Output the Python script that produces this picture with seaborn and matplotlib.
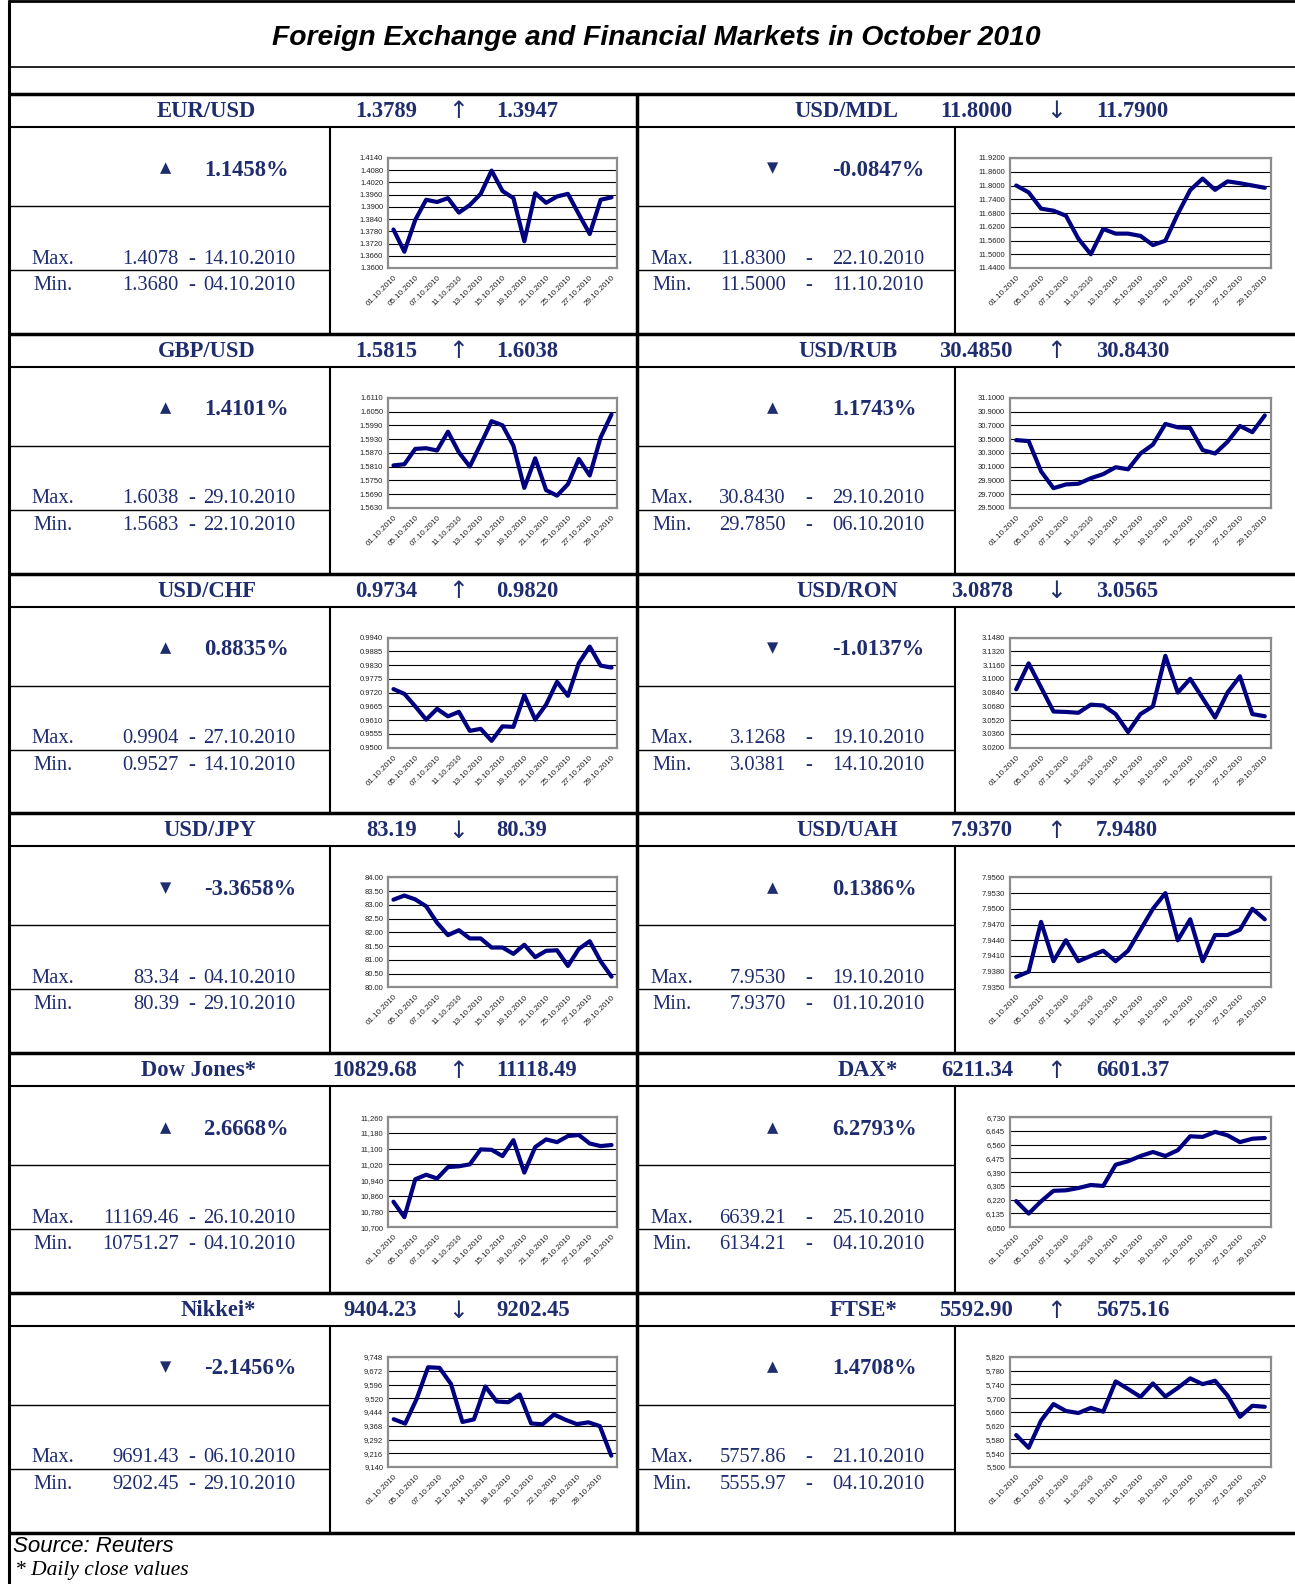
import numpy as np
import pandas as pd
import matplotlib.pyplot as plt
import seaborn as sns
from matplotlib.lines import Line2D

# Trading days in October 2010
fx_dates = ['01.10.2010', '04.10.2010', '05.10.2010', '06.10.2010', '07.10.2010',
            '08.10.2010', '11.10.2010', '12.10.2010', '13.10.2010', '14.10.2010',
            '15.10.2010', '18.10.2010', '19.10.2010', '20.10.2010', '21.10.2010',
            '22.10.2010', '25.10.2010', '26.10.2010', '27.10.2010', '28.10.2010',
            '29.10.2010']
nikkei_dates = [d for d in fx_dates if d != '11.10.2010']

# Daily close values
eur_usd = [1.3789, 1.3680, 1.3836, 1.3935, 1.3924, 1.3943, 1.3872, 1.3909, 1.3964, 1.4078, 1.3978,
           1.3943, 1.3731, 1.3967, 1.3920, 1.3951, 1.3964, 1.3864, 1.3767, 1.3935, 1.3947]
usd_mdl = [11.8000, 11.7700, 11.6990, 11.6900, 11.6680, 11.5680, 11.5000, 11.6100, 11.5900, 11.5900, 11.5800,
           11.5400, 11.5590, 11.6760, 11.7800, 11.8300, 11.7810, 11.8180, 11.8100, 11.8000, 11.7900]
gbp_usd = [1.5815, 1.5820, 1.5887, 1.5890, 1.5880, 1.5962, 1.5872, 1.5810, 1.5908, 1.6008, 1.5990,
           1.5901, 1.5717, 1.5846, 1.5707, 1.5683, 1.5733, 1.5843, 1.5771, 1.5937, 1.6038]
usd_rub = [30.4850, 30.4700, 30.0300, 29.7850, 29.8400, 29.8500, 29.9300, 29.9900, 30.0900, 30.0600, 30.2900,
           30.4200, 30.7200, 30.6700, 30.6600, 30.3400, 30.2900, 30.4600, 30.6900, 30.6000, 30.8430]
usd_chf = [0.9734, 0.9715, 0.9665, 0.9612, 0.9655, 0.9625, 0.9643, 0.9567, 0.9575, 0.9527, 0.9585,
           0.9583, 0.9710, 0.9612, 0.9672, 0.9763, 0.9707, 0.9838, 0.9904, 0.9828, 0.9820]
usd_ron = [3.0878, 3.1180, 3.0900, 3.0620, 3.0615, 3.0605, 3.0700, 3.0690, 3.0590, 3.0381, 3.0590,
           3.0680, 3.1268, 3.0840, 3.1000, 3.0775, 3.0550, 3.0840, 3.1030, 3.0590, 3.0565]
usd_jpy = [83.19, 83.34, 83.20, 82.95, 82.35, 81.90, 82.08, 81.78, 81.78, 81.45, 81.45,
           81.22, 81.55, 81.10, 81.33, 81.35, 80.78, 81.40, 81.68, 80.95, 80.39]
usd_uah = [7.9370, 7.9380, 7.9475, 7.9400, 7.9440, 7.9400, 7.9410, 7.9420, 7.9400, 7.9420, 7.9460,
           7.9500, 7.9530, 7.9440, 7.9480, 7.9400, 7.9450, 7.9450, 7.9460, 7.9500, 7.9480]
dow = [10829.68, 10751.27, 10944, 10967, 10948, 11006, 11010, 11020, 11096, 11094, 11062,
       11143, 10978, 11108, 11147, 11133, 11164, 11169.46, 11126, 11113, 11118.49]
dax = [6211.34, 6134.21, 6210, 6275, 6278, 6292, 6311, 6305, 6436, 6458, 6490,
       6515, 6490, 6526, 6612, 6608, 6639.21, 6618, 6576, 6597, 6601.37]
nikkei = [9404.23, 9380, 9516, 9691.43, 9688, 9599, 9389, 9403, 9585, 9502,
          9498, 9541, 9381, 9376, 9430, 9401, 9377, 9387, 9366, 9202.45]
ftse = [5592.90, 5555.97, 5635, 5683, 5663, 5657, 5672, 5661, 5749, 5727, 5704,
        5743, 5705, 5730, 5757.86, 5741, 5751, 5708, 5646, 5678, 5675.16]

names = ['EUR/USD', 'USD/MDL', 'GBP/USD', 'USD/RUB', 'USD/CHF', 'USD/RON',
         'USD/JPY', 'USD/UAH', 'Dow Jones*', 'DAX*', 'Nikkei*', 'FTSE*']
series = [eur_usd, usd_mdl, gbp_usd, usd_rub, usd_chf, usd_ron,
          usd_jpy, usd_uah, dow, dax, nikkei, ftse]
dates = [fx_dates] * 10 + [nikkei_dates, fx_dates]
start_txt = ['1.3789', '11.8000', '1.5815', '30.4850', '0.9734', '3.0878',
             '83.19', '7.9370', '10829.68', '6211.34', '9404.23', '5592.90']
end_txt = ['1.3947', '11.7900', '1.6038', '30.8430', '0.9820', '3.0565',
           '80.39', '7.9480', '11118.49', '6601.37', '9202.45', '5675.16']
pct_change = [1.1458, -0.0847, 1.4101, 1.1743, 0.8835, -1.0137,
              -3.3658, 0.1386, 2.6668, 6.2793, -2.1456, 1.4708]
max_txt = ['1.4078', '11.8300', '1.6038', '30.8430', '0.9904', '3.1268',
           '83.34', '7.9530', '11169.46', '6639.21', '9691.43', '5757.86']
max_date = ['14.10.2010', '22.10.2010', '29.10.2010', '29.10.2010', '27.10.2010', '19.10.2010',
            '04.10.2010', '19.10.2010', '26.10.2010', '25.10.2010', '06.10.2010', '21.10.2010']
min_txt = ['1.3680', '11.5000', '1.5683', '29.7850', '0.9527', '3.0381',
           '80.39', '7.9370', '10751.27', '6134.21', '9202.45', '5555.97']
min_date = ['04.10.2010', '11.10.2010', '22.10.2010', '06.10.2010', '14.10.2010', '14.10.2010',
            '29.10.2010', '01.10.2010', '04.10.2010', '04.10.2010', '29.10.2010', '04.10.2010']

# y-axis scales (min, max, step) and tick formats
y_min = [1.3600, 11.4400, 1.5630, 29.5000, 0.9500, 3.0200, 80.00, 7.9350, 10700, 6050, 9140, 5500]
y_max = [1.4140, 11.9200, 1.6110, 31.1000, 0.9940, 3.1480, 84.00, 7.9560, 11260, 6730, 9748, 5820]
y_step = [0.0060, 0.0600, 0.0060, 0.2000, 0.0055, 0.0160, 0.50, 0.0030, 80, 85, 76, 40]
y_fmt = ['{:.4f}'] * 6 + ['{:.2f}', '{:.4f}'] + ['{:,.0f}'] * 4

rows = []
for nm, vals, ds in zip(names, series, dates):
    for i, (d, v) in enumerate(zip(ds, vals)):
        rows.append({'instrument': nm, 'day': i, 'date': d, 'rate': v})
df = pd.DataFrame(rows)

sns.set_style('white')
plt.rcParams['font.family'] = ['Liberation Serif', 'DejaVu Sans']

W, H = 1295, 1584
fig = plt.figure(figsize=(W / 100, H / 100), dpi=100)
fig.patch.set_facecolor('white')

TXT = '#1f2d6e'
LINE = '#000080'


def fx(x):
    return x / W


def fy(y):
    return 1 - y / H


def hline(y, x0, x1, lw):
    fig.add_artist(Line2D([fx(x0), fx(x1)], [fy(y), fy(y)], transform=fig.transFigure,
                          color='black', lw=lw, solid_capstyle='butt'))


def vline(x, y0, y1, lw):
    fig.add_artist(Line2D([fx(x), fx(x)], [fy(y0), fy(y1)], transform=fig.transFigure,
                          color='black', lw=lw, solid_capstyle='butt'))


def txt(x, y, s, **kw):
    kw.setdefault('color', TXT)
    kw.setdefault('va', 'center')
    fig.text(fx(x), fy(y), s, **kw)


# title
txt(656, 38, 'Foreign Exchange and Financial Markets in October 2010', ha='center',
    fontsize=20.3, fontweight='bold', fontstyle='italic', color='black',
    family=['Liberation Sans', 'DejaVu Sans'])

TOP = 94
BH = 239.8
XR = 1295

hline(1, 8, XR, 2.0)
vline(9, 0, H, 2.2)
hline(67, 8, XR, 1.2)

for k, nm in enumerate(names):
    r, side = divmod(k, 2)
    T = TOP + r * BH
    if side == 0:
        xl, xc, xr_ = 8, 330, 637
        name_r, start_r, arrow_x, end_l = 256, 417, 458, 496
        tri_x, pct_l = 166, 204
        lab_x, val_r, dash_x, date_l = 53, 179, 192, 203
        ax_x0, ax_x1 = 388, 617
    else:
        xl, xc, xr_ = 637, 955, XR
        name_r, start_r, arrow_x, end_l = 898, 1013, 1056, 1096
        tri_x, pct_l = 773, 832
        lab_x, val_r, dash_x, date_l = 672, 786, 809, 832
        ax_x0, ax_x1 = 1010, 1271

    # header row
    txt(name_r, T + 17.5, nm, ha='right', fontsize=16.3, fontweight='bold')
    txt(start_r, T + 17.5, start_txt[k], ha='right', fontsize=16.3, fontweight='bold')
    up = float(end_txt[k]) > float(start_txt[k])
    txt(arrow_x, T + 17.5, '↑' if up else '↓', ha='center', fontsize=17,
        family=['DejaVu Sans'])
    txt(end_l, T + 17.5, end_txt[k], ha='left', fontsize=16.3, fontweight='bold')

    # change
    p = pct_change[k]
    txt(tri_x, T + 74, '▲' if p > 0 else '▼', ha='center', fontsize=10.5,
        family=['DejaVu Sans'])
    txt(pct_l, T + 76, f'{p:.4f}%', ha='left', fontsize=16.3, fontweight='bold')

    # max / min
    for yy, lab, v, d in [(T + 165, 'Max.', max_txt[k], max_date[k]),
                          (T + 191.5, 'Min.', min_txt[k], min_date[k])]:
        txt(lab_x, yy, lab, ha='center', fontsize=14.8)
        txt(val_r, yy, v, ha='right', fontsize=14.8)
        txt(dash_x, yy, '-', ha='center', fontsize=14.8)
        txt(date_l, yy, d, ha='left', fontsize=14.8)

    # table lines for this cell
    hline(T + 112, xl, xc, 1.0)
    hline(T + 176, xl, xc, 1.0)
    vline(xc, T + 33, T + BH, 1.5)

    # mini chart
    y0, y1 = T + 64, T + 174
    ax = fig.add_axes([fx(ax_x0), fy(y1), fx(ax_x1 - ax_x0), (y1 - y0) / H])
    sub = df[df['instrument'] == nm]
    sns.lineplot(data=sub, x='day', y='rate', ax=ax, color=LINE, linewidth=3.0)
    for ln in ax.get_lines():
        ln.set_solid_joinstyle('round')
        ln.set_solid_capstyle('round')
    n = len(sub)
    ax.set_xlim(-0.5, n - 0.5)
    ax.set_ylim(y_min[k], y_max[k])
    yt = np.linspace(y_min[k], y_max[k], int(round((y_max[k] - y_min[k]) / y_step[k])) + 1)
    ax.set_yticks(yt)
    ax.set_yticklabels([y_fmt[k].format(v) for v in yt])
    ax.set_xticks(sub['day'].values[::2])
    ax.set_xticklabels(sub['date'].values[::2], rotation=45, ha='right',
                       rotation_mode='anchor')
    ax.set_xticks(np.arange(-0.5, n, 1), minor=True)
    ax.tick_params(axis='x', which='major', length=0, pad=4.5, labelsize=5.8,
                   labelcolor='#222222')
    ax.tick_params(axis='x', which='minor', length=3, width=0.6, color='#888888',
                   direction='out')
    ax.tick_params(axis='y', length=2, width=0.6, color='#888888', pad=1.5,
                   labelsize=5.5, labelcolor='#222222')
    for lab in ax.get_xticklabels() + ax.get_yticklabels():
        lab.set_family(['Liberation Sans', 'DejaVu Sans'])
    ax.grid(axis='y', color='black', linewidth=0.8)
    ax.grid(axis='x', visible=False)
    ax.set_axisbelow(True)
    for s in ax.spines.values():
        s.set_color('#8c8c8c')
        s.set_linewidth(1.6)
    ax.set_xlabel('')
    ax.set_ylabel('')

# row separators and middle divider
for r in range(6):
    T = TOP + r * BH
    hline(T, 8, XR, 2.5)
    hline(T + 33, 8, XR, 1.5)
    vline(637, T, T + BH, 2.5)
hline(TOP + 6 * BH, 8, XR, 2.5)

# footnotes
txt(13, 1546, 'Source: Reuters', ha='left', fontsize=16, fontstyle='italic', color='black',
    family=['Liberation Sans', 'DejaVu Sans'])
txt(15, 1570, '* Daily close values', ha='left', fontsize=15.5, fontstyle='italic',
    color='black')

fig.savefig('out.png', dpi=100, facecolor='white')
